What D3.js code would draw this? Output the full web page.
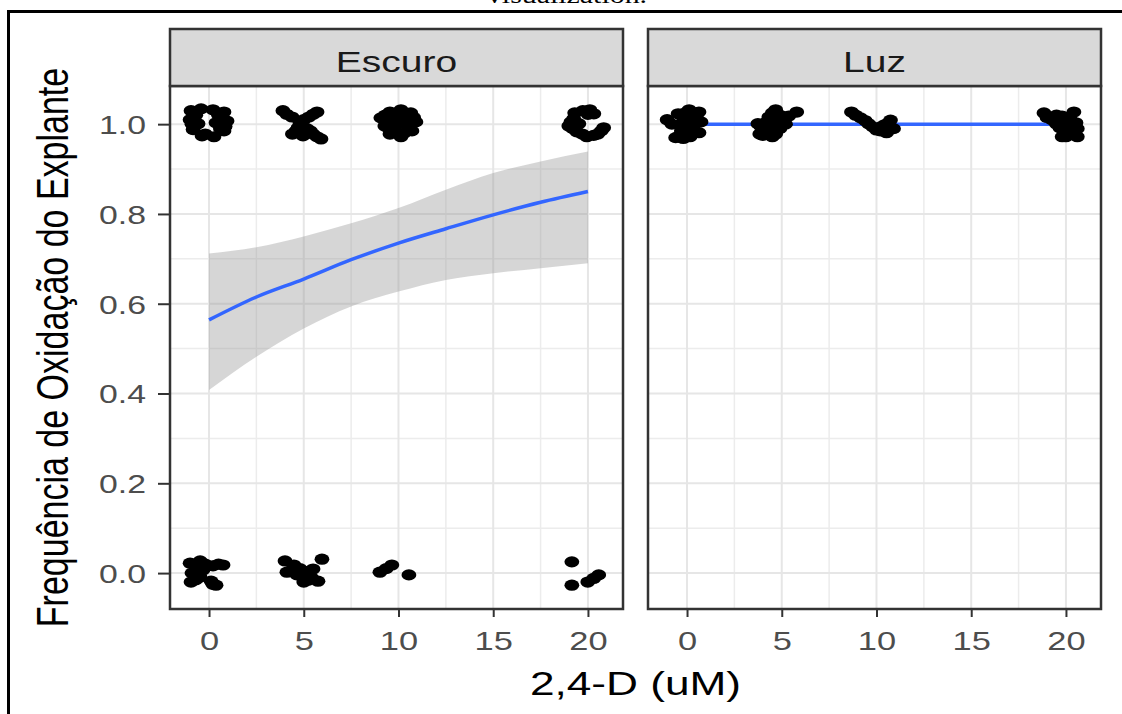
<!DOCTYPE html>
<html>
<head>
<meta charset="utf-8">
<script src="https://cdn.jsdelivr.net/npm/d3@7"></script>
<style>
  body { margin: 0; background: #fff; }
  text { font-family: "Liberation Sans", Arial, sans-serif; }
</style>
</head>
<body>
<div id="chart"></div>
<script>
// data
const panels = ['Escuro', 'Luz']
const xTicks = [0, 5, 10, 15, 20]
const xMinor = [2.5, 7.5, 12.5, 17.5]
const yTicks = [0, 0.2, 0.4, 0.6, 0.8, 1.0]
const yMinor = [0.1, 0.3, 0.5, 0.7, 0.9]

// jittered observations [dose, oxidised]
const escuroPoints = [
  // 0 uM, oxidised
  [-0.95, 1.030], [-0.42, 1.034], [0.21, 1.032], [0.79, 1.027], [0.95, 1.007], [0.79, 0.985],
  [0.26, 0.972], [-0.37, 0.974], [-0.84, 0.988], [-1.00, 1.010], [-0.58, 1.001], [0.37, 1.003],
  [-0.70, 1.020], [0.50, 1.020], [0.60, 0.990], [-0.20, 0.978], [-0.90, 1.000], [0.85, 0.995],
  // 5 uM
  [3.90, 1.030], [4.38, 1.016], [4.80, 1.003], [5.17, 0.990], [5.49, 0.978], [5.91, 0.967],
  [5.70, 1.027], [5.27, 1.016], [4.59, 0.985], [4.96, 0.974], [4.10, 1.022], [5.50, 1.022],
  [5.00, 1.010], [4.40, 0.978], [5.70, 0.972], [4.70, 0.992], [5.35, 0.985],
  // 10 uM
  [9.07, 1.014], [9.55, 1.027], [10.13, 1.032], [10.65, 1.025], [10.92, 1.005], [10.71, 0.985],
  [10.13, 0.972], [9.55, 0.978], [9.28, 0.996], [9.92, 1.003], [10.34, 1.001], [9.71, 1.007],
  [9.30, 1.020], [10.40, 1.020], [10.60, 0.995], [9.80, 0.985], [10.30, 0.980], [9.50, 0.990],
  [10.00, 1.020], [10.80, 1.015],
  // 20 uM
  [19.73, 1.030], [20.31, 1.023], [19.25, 1.012], [18.99, 0.996], [19.41, 0.983], [19.94, 0.972],
  [20.52, 0.978], [20.83, 0.992], [19.52, 1.001], [20.10, 1.032], [19.30, 1.025], [20.00, 1.022],
  [19.10, 1.005], [19.20, 0.990], [19.70, 0.978], [20.30, 0.975], [20.70, 0.985],
  // not oxidised
  [-1.00, 0.022], [-0.47, 0.027], [0.21, 0.016], [0.74, 0.018], [-0.90, 0.000], [-0.47, -0.009],
  [-0.95, -0.020], [0.11, -0.018], [0.37, -0.027], [-0.32, 0.007], [-0.20, 0.020], [0.50, 0.020],
  [-0.70, -0.015], [0.20, -0.025], [-0.60, 0.015],
  [4.01, 0.027], [4.48, 0.018], [4.11, 0.002], [4.64, -0.004], [5.06, 0.004], [5.22, -0.016],
  [5.75, -0.018], [5.96, 0.031], [5.49, 0.009], [4.30, 0.005], [5.40, -0.010], [4.80, 0.010],
  [5.00, -0.020],
  [9.02, 0.002], [9.35, 0.010], [9.65, 0.018], [10.55, -0.004],
  [19.15, 0.025], [19.15, -0.027], [19.99, -0.020], [20.30, -0.012], [20.57, -0.004]
]
const luzPoints = [
  [-1.05, 1.010], [-0.47, 1.023], [0.11, 1.032], [0.63, 1.027], [0.74, 1.005], [0.63, 0.981],
  [0.16, 0.972], [-0.47, 0.972], [0.11, 0.998], [-0.21, 1.005], [0.32, 1.014], [-0.80, 1.000],
  [0.40, 0.985], [-0.30, 0.985], [0.50, 1.020], [-0.10, 1.025], [0.00, 0.985], [-0.60, 0.970],
  [-0.20, 0.968],
  [3.74, 1.001], [4.32, 1.016], [4.68, 1.032], [5.37, 1.018], [5.79, 1.027], [5.05, 1.005],
  [4.42, 0.990], [3.84, 0.978], [4.68, 0.978], [4.00, 0.990], [4.90, 1.020], [5.20, 1.000],
  [4.20, 1.005], [4.50, 1.025], [4.00, 0.975], [4.50, 0.972], [3.90, 0.995], [4.60, 1.000],
  [4.90, 0.990],
  [8.68, 1.027], [9.16, 1.014], [9.58, 1.001], [10.00, 0.987], [10.53, 0.981], [10.74, 1.009],
  [10.32, 0.996], [8.90, 1.020], [9.40, 1.008], [9.80, 0.994], [10.20, 0.985], [10.50, 1.000],
  [10.90, 0.990],
  [18.84, 1.025], [19.26, 1.010], [19.79, 1.018], [20.42, 1.027], [20.53, 1.003], [20.47, 0.978],
  [20.00, 0.972], [19.68, 0.992], [20.11, 1.001], [19.00, 1.015], [19.50, 1.020], [20.20, 1.015],
  [20.60, 0.990], [19.90, 0.985], [20.30, 0.985], [19.50, 1.000], [19.80, 0.972], [20.60, 0.972]
]

// smooth (logistic fit) sampled along x
const fitX = [0, 2.5, 5, 7.5, 10, 12.5, 15, 17.5, 20]
const escuroFit = [0.564, 0.615, 0.655, 0.698, 0.735, 0.767, 0.798, 0.826, 0.850]
const escuroLower = [0.408, 0.482, 0.545, 0.594, 0.627, 0.653, 0.668, 0.679, 0.690]
const escuroUpper = [0.712, 0.726, 0.750, 0.779, 0.813, 0.854, 0.891, 0.917, 0.939]
const luzFit = [1, 1, 1, 1, 1, 1, 1, 1, 1]

const panelData = {
  Escuro: { points: escuroPoints, fit: escuroFit, lower: escuroLower, upper: escuroUpper },
  Luz: { points: luzPoints, fit: luzFit, lower: luzFit, upper: luzFit }
}

// the picture is stretched sideways, so text is too
const K = 1.3
const width = 1122, height = 714
const panelX = [170, 648]
const panelTop = 86, panelW = 453, panelH = 523, stripH = 57

const svg = d3.select('#chart').append('svg')
  .attr('width', width)
  .attr('height', height)

svg.append('rect').attr('width', width).attr('height', height).attr('fill', '#fff')

// clipped caption from the page above + frame
svg.append('text')
  .attr('transform', `translate(567,3) scale(${K},1)`)
  .attr('text-anchor', 'middle')
  .style('font-family', '"Liberation Serif", "Times New Roman", serif')
  .style('font-size', '23px')
  .text('visualization.')
svg.append('path')
  .attr('d', `M8.5,${height} V11.5 H${width}`)
  .attr('fill', 'none')
  .attr('stroke', '#000')
  .attr('stroke-width', 3)

const x = d3.scaleLinear().domain([-2.06, 21.85]).range([0, panelW])
const y = d3.scaleLinear().domain([-0.08, 1.085]).range([panelH, 0])

const line = d3.line()
  .x((d, i) => x(fitX[i]))
  .y(d => y(d))
  .curve(d3.curveMonotoneX)

const area = d3.area()
  .x(d => x(d.x))
  .y0(d => y(d.lo))
  .y1(d => y(d.hi))
  .curve(d3.curveMonotoneX)

panels.forEach((name, p) => {
  const dat = panelData[name]
  const g = svg.append('g').attr('transform', `translate(${panelX[p]},${panelTop})`)

  // grid
  g.append('g').selectAll('line')
    .data(xMinor)
    .join('line')
    .attr('x1', d => x(d)).attr('x2', d => x(d))
    .attr('y1', 0).attr('y2', panelH)
    .attr('stroke', '#ececec').attr('stroke-width', 1.5)
  g.append('g').selectAll('line')
    .data(yMinor)
    .join('line')
    .attr('y1', d => y(d)).attr('y2', d => y(d))
    .attr('x1', 0).attr('x2', panelW)
    .attr('stroke', '#ececec').attr('stroke-width', 1.5)
  g.append('g').selectAll('line')
    .data(xTicks)
    .join('line')
    .attr('x1', d => x(d)).attr('x2', d => x(d))
    .attr('y1', 0).attr('y2', panelH)
    .attr('stroke', '#e6e6e6').attr('stroke-width', 2)
  g.append('g').selectAll('line')
    .data(yTicks)
    .join('line')
    .attr('y1', d => y(d)).attr('y2', d => y(d))
    .attr('x1', 0).attr('x2', panelW)
    .attr('stroke', '#e6e6e6').attr('stroke-width', 2)

  // ribbon + fitted line
  const band = fitX.map((v, i) => ({ x: v, lo: dat.lower[i], hi: dat.upper[i] }))
  g.append('path')
    .datum(band)
    .attr('d', area)
    .attr('fill', '#999999')
    .attr('fill-opacity', 0.4)
  g.append('path')
    .datum(dat.fit)
    .attr('d', line)
    .attr('fill', 'none')
    .attr('stroke', '#3366FF')
    .attr('stroke-width', 3.5)

  // jittered points
  g.append('g').selectAll('ellipse')
    .data(dat.points)
    .join('ellipse')
    .attr('cx', d => x(d[0]))
    .attr('cy', d => y(d[1]))
    .attr('rx', 7.4)
    .attr('ry', 5.6)
    .attr('fill', '#000')

  // border
  g.append('rect')
    .attr('width', panelW).attr('height', panelH)
    .attr('fill', 'none')
    .attr('stroke', '#333').attr('stroke-width', 2.5)

  // strip
  const s = svg.append('g').attr('transform', `translate(${panelX[p]},${panelTop - stripH})`)
  s.append('rect')
    .attr('width', panelW).attr('height', stripH)
    .attr('fill', '#d9d9d9')
    .attr('stroke', '#333').attr('stroke-width', 2.5)
  s.append('text')
    .attr('transform', `translate(${panelW / 2},${stripH - 14.5}) scale(${K},1)`)
    .attr('text-anchor', 'middle')
    .attr('fill', '#1a1a1a')
    .style('font-size', '30px')
    .text(name)

  // x axis
  const ax = svg.append('g')
    .attr('transform', `translate(${panelX[p]},${panelTop + panelH})`)
    .call(d3.axisBottom(x).tickValues(xTicks).tickSize(8).tickFormat(d3.format('d')))
  ax.select('.domain').remove()
  ax.selectAll('line').attr('stroke', '#333').attr('stroke-width', 2)
  ax.selectAll('text')
    .attr('y', 41).attr('dy', 0)
    .attr('transform', `scale(${K},1)`)
    .attr('x', 0)
    .attr('fill', '#4d4d4d')
    .style('font-size', '26.5px')
    .style('font-family', '"Liberation Sans", Arial, sans-serif')

  if (p === 0) {
    const ay = svg.append('g')
      .attr('transform', `translate(${panelX[p]},${panelTop})`)
      .call(d3.axisLeft(y).tickValues(yTicks).tickSize(12).tickFormat(d3.format('.1f')))
    ay.select('.domain').remove()
    ay.selectAll('line').attr('stroke', '#333').attr('stroke-width', 2)
    ay.selectAll('text')
      .attr('x', -24 / K).attr('dy', '0.36em')
      .attr('transform', `scale(${K},1)`)
      .attr('fill', '#4d4d4d')
      .style('font-size', '26px')
      .style('font-family', '"Liberation Sans", Arial, sans-serif')
  }
})

// axis titles
svg.append('text')
  .attr('transform', `translate(${(panelX[0] + panelX[1] + panelW) / 2},695) scale(${K},1)`)
  .attr('text-anchor', 'middle')
  .attr('fill', '#000')
  .style('font-size', '34px')
  .text('2,4-D (uM)')
svg.append('text')
  .attr('transform', `translate(68,${panelTop + panelH / 2}) scale(${K},1) rotate(-90)`)
  .attr('text-anchor', 'middle')
  .attr('fill', '#000')
  .style('font-size', '34px')
  .text('Frequência de Oxidação do Explante')
</script>
</body>
</html>
